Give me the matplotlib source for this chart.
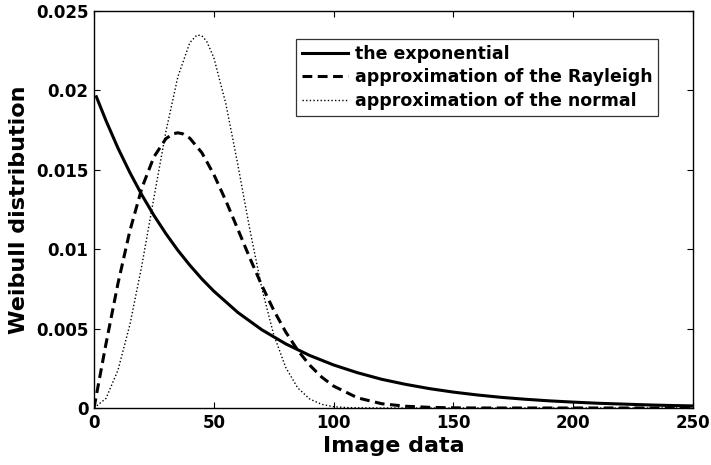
import matplotlib.pyplot as plt

# values
x_exp = [1, 5, 10, 15, 20, 25, 30, 35, 40, 45, 50, 60, 70, 80, 90, 100,
         110, 120, 130, 140, 150, 160, 170, 180, 190, 200, 210, 220, 230, 240, 250]
y_exp = [0.01960, 0.01810, 0.01637, 0.01482, 0.01341, 0.01213, 0.01098, 0.00993,
         0.00899, 0.00813, 0.00736, 0.00602, 0.00493, 0.00404, 0.00331, 0.00271,
         0.00222, 0.00181, 0.00149, 0.00122, 0.00100, 0.00082, 0.00067, 0.00055,
         0.00045, 0.00037, 0.00030, 0.00025, 0.00020, 0.00016, 0.00013]

x_ray = [0, 5, 10, 15, 20, 25, 30, 33, 35, 37, 40, 45, 50, 55, 60, 65, 70, 75,
         80, 85, 90, 95, 100, 110, 120, 130, 140, 150, 160, 250]
y_ray = [0.0, 0.00404, 0.00784, 0.01117, 0.01387, 0.01581, 0.01696, 0.01727,
         0.01733, 0.01727, 0.01699, 0.01608, 0.01471, 0.01306, 0.01127, 0.00946,
         0.00773, 0.00616, 0.00479, 0.00364, 0.00270, 0.00195, 0.00138, 0.00064,
         0.00027, 0.00011, 0.00004, 0.00001, 0.0, 0.0]

x_norm = [0, 5, 10, 15, 20, 25, 30, 35, 40, 43, 45, 47, 50, 55, 60, 65, 70, 75,
          80, 85, 90, 95, 100, 105, 110, 120, 250]
y_norm = [0.0, 0.00060, 0.00238, 0.00526, 0.00900, 0.01324, 0.01740, 0.02086,
          0.02301, 0.02349, 0.02344, 0.02310, 0.02207, 0.01918, 0.01535, 0.01127,
          0.00756, 0.00462, 0.00256, 0.00127, 0.00057, 0.00023, 0.00008, 0.00003,
          0.00001, 0.0, 0.0]

labels = ["the exponential", "approximation of the Rayleigh", "approximation of the normal"]

plt.rcParams["font.family"] = "DejaVu Sans"
plt.rcParams["font.weight"] = "bold"

fig = plt.figure(figsize=(7.11, 4.65), dpi=100)
ax = fig.add_axes([0.1322, 0.1226, 0.8425, 0.8537])

ax.plot(x_exp, y_exp, "k-", lw=2.2, label=labels[0])
ax.plot(x_ray, y_ray, color="k", lw=2.2, linestyle=(0, (3.2, 1.8)), label=labels[1])
ax.plot(x_norm, y_norm, color="k", lw=1.0, linestyle=(0, (1, 1.6)), label=labels[2])

ax.set_xlim(0, 250)
ax.set_ylim(0, 0.025)
ax.set_xticks([0, 50, 100, 150, 200, 250])
ax.set_yticks([0, 0.005, 0.01, 0.015, 0.02, 0.025])
ax.set_yticklabels(["0", "0.005", "0.01", "0.015", "0.02", "0.025"])
ax.tick_params(direction="in", top=True, right=True, length=4, width=0.8,
               labelsize=12, pad=4)
for s in ax.spines.values():
    s.set_linewidth(1.0)

ax.set_xlabel("Image data", fontsize=16, fontweight="bold", labelpad=3)
ax.set_ylabel("Weibull distribution", fontsize=16, fontweight="bold", labelpad=5)

leg = ax.legend(loc="upper right", bbox_to_anchor=(0.942, 0.929), borderaxespad=0,
                fontsize=12.5, frameon=True, fancybox=False, handlelength=2.6,
                handletextpad=0.4, labelspacing=0.3, borderpad=0.35)
leg.get_frame().set_edgecolor("k")
leg.get_frame().set_linewidth(0.9)

fig.savefig("out.png", dpi=100)
